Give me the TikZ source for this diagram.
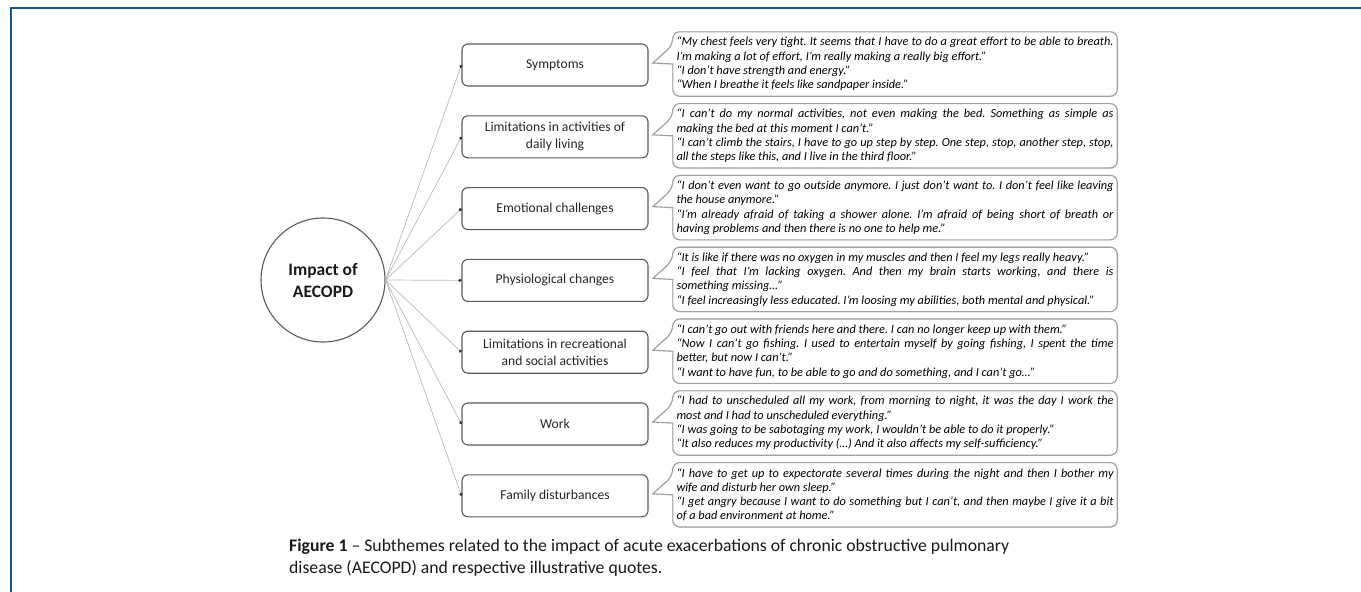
\documentclass[tikz,border=0pt]{standalone}
\usepackage{fontspec}
\setmainfont{Carlito}
\frenchspacing
\usetikzlibrary{arrows.meta,calc,backgrounds}
\definecolor{frameblue}{RGB}{14,88,150}
\definecolor{qgray}{RGB}{160,160,160}
\definecolor{tgray}{RGB}{90,90,90}
\definecolor{lgray}{RGB}{185,185,185}
\definecolor{shade}{RGB}{225,225,225}
\tikzset{
  theme/.style={draw=tgray, line width=1.1pt, rounded corners=6pt, minimum width=186pt,
    minimum height=42pt, align=center, inner sep=2pt, fill=white, text=black!85,
    font=\fontsize{13.6}{17}\selectfont},
  quotetext/.style={text width=437pt, minimum height=64pt, inner xsep=3.5pt, inner ysep=0pt,
    align=justify, text=black, font=\fontsize{12.3}{14.3}\selectfont\itshape},
  qframe/.style={draw=qgray, line width=1.1pt, fill=white},
  qshadow/.style={draw=shade, line width=1.6pt},
  link/.style={draw=lgray, line width=0.7pt, -{Circle[length=3pt,color=black!80]}},
  hub/.style={circle, draw=tgray, line width=1.1pt, minimum size=124pt, align=center,
    inner sep=0pt, font=\fontsize{17.5}{22}\selectfont\bfseries, text=black!90},
}
\newcommand\quoteframe[3]{%
  \draw[#1] (#3) -- ($(#2.west|-#3)+(0,1)$) [rounded corners=7pt] -- (#2.south west)
    -- (#2.south east) -- (#2.north east) -- (#2.north west)
    -- ($(#2.west|-#3)+(0,-18)$) [sharp corners] -- cycle;}
\begin{document}
\begin{tikzpicture}[x=1pt,y=-1pt]
\useasboundingbox (0,0) rectangle (1361,592);
\draw[frameblue, line width=2.3pt] (11,592) -- (11,8) -- (1361,8);

\node[hub] (hub) at (323,280) {Impact of\\AECOPD};

\node[theme] (t1) at (555,65.0)  {Symptoms};
\node[theme] (t2) at (555,136.8) {Limitations in activities of\\daily living};
\node[theme] (t3) at (555,208.6) {Emotional challenges};
\node[theme] (t4) at (555,280.4) {Physiological changes};
\node[theme] (t5) at (555,352.2) {Limitations in recreational\\and social activities};
\node[theme] (t6) at (555,424.0) {Work};
\node[theme] (t7) at (555,495.8) {Family disturbances};

\foreach \i in {1,...,7} {\draw[link] (hub.east) -- (t\i.west);}

\node[quotetext] (q1) at (895,64.0) {“My chest feels very tight. It seems that I have to do a great effort to be able to breath.\linebreak I’m making a lot of effort, I’m really making a really big effort.”\par “I don’t have strength and energy.”\par “When I breathe it feels like sandpaper inside.”};
\node[quotetext] (q2) at (895,135.8) {“I can’t do my normal activities, not even making the bed. Something as simple as\linebreak making the bed at this moment I can’t.”\par “I can’t climb the stairs, I have to go up step by step. One step, stop, another step, stop,\linebreak all the steps like this, and I live in the third floor.”};
\node[quotetext] (q3) at (895,207.6) {“I don’t even want to go outside anymore. I just don’t want to. I don’t feel like leaving\linebreak the house anymore.”\par “I’m already afraid of taking a shower alone. I’m afraid of being short of breath or\linebreak having problems and then there is no one to help me.”};
\node[quotetext] (q4) at (895,279.4) {“It is like if there was no oxygen in my muscles and then I feel my legs really heavy.”\par “I feel that I’m lacking oxygen. And then my brain starts working, and there is\linebreak something missing…”\par “I feel increasingly less educated. I’m loosing my abilities, both mental and physical.”};
\node[quotetext] (q5) at (895,351.2) {“I can’t go out with friends here and there. I can no longer keep up with them.”\par “Now I can’t go fishing. I used to entertain myself by going fishing, I spent the time\linebreak better, but now I can’t.”\par “I want to have fun, to be able to go and do something, and I can’t go…”};
\node[quotetext] (q6) at (895,423.0) {“I had to unscheduled all my work, from morning to night, it was the day I work the\linebreak most and I had to unscheduled everything.”\par “I was going to be sabotaging my work, I wouldn’t be able to do it properly.”\par “It also reduces my productivity (…) And it also affects my self-sufficiency.”};
\node[quotetext] (q7) at (895,494.8) {“I have to get up to expectorate several times during the night and then I bother my\linebreak wife and disturb her own sleep.”\par “I get angry because I want to do something but I can’t, and then maybe I give it a bit\linebreak of a bad environment at home.”};

\foreach \i in {1,...,7} {
  \coordinate (p\i) at ($(t\i.center)+(98,-2)$);
}
\begin{scope}[on background layer]
\foreach \i in {1,...,7} {
  \begin{scope}[shift={(1.4,1.6)}]
    \quoteframe{qshadow}{q\i}{p\i}
  \end{scope}
  \quoteframe{qframe}{q\i}{p\i}
}
\end{scope}

\node[anchor=north west, align=left, inner sep=0pt, text=black!90,
  font=\fontsize{17.7}{22}\selectfont] (cap) at (289,538.5)
  {\textbf{Figure 1} – Subthemes related to the impact of acute exacerbations of chronic obstructive pulmonary\\disease (AECOPD) and respective illustrative quotes.};
\end{tikzpicture}
\end{document}
